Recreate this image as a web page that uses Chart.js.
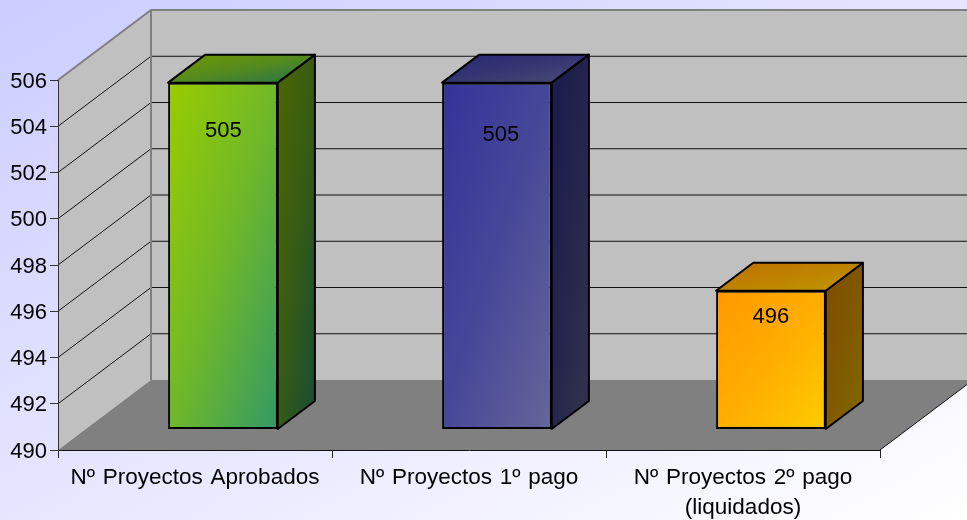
<!DOCTYPE html>
<html>
<head>
<meta charset="utf-8">
<style>
html, body { margin: 0; padding: 0; background: #fff; }
#wrap { width: 967px; height: 520px; }
</style>
<script src="https://cdn.jsdelivr.net/npm/chart.js@4"></script>
</head>
<body>
<div id="wrap"><canvas id="graf" width="967" height="520"></canvas></div>
<script>
var categories = ['Nº Proyectos Aprobados', 'Nº Proyectos 1º pago', ['Nº Proyectos 2º pago', '(liquidados)']];
var proyectos = [505, 505, 496];
var colorStart = ['#99cc00', '#333399', '#ff9900'];
var colorEnd = ['#339966', '#666699', '#ffcc00'];

// depth of the fake 3d box, in pixels
var DX = 93, DY = 70;

function mix(a, b, t, f) {
    var x = parseInt(a.slice(1), 16), y = parseInt(b.slice(1), 16);
    var ch = function (s) { return Math.round(((x >> s & 255) * (1 - t) + (y >> s & 255) * t) * f); };
    return 'rgb(' + ch(16) + ',' + ch(8) + ',' + ch(0) + ')';
}

// diagonal gradient where the other two corners get the same colour (like css "to bottom right")
function cornerGrad(ctx, x, y, w, h, i, f) {
    var len = Math.sqrt(w * w + h * h);
    var dx = h / len, dy = w / len;
    var half = (w / 2 * dx + h / 2 * dy);
    var cx = x + w / 2, cy = y + h / 2;
    var g = ctx.createLinearGradient(cx - half * dx, cy - half * dy, cx + half * dx, cy + half * dy);
    if (i === undefined) return g;
    g.addColorStop(0, mix(colorStart[i], colorEnd[i], 0, f));
    g.addColorStop(0.5, mix(colorStart[i], colorEnd[i], 0.4, f)); // excel ramp is not quite linear
    g.addColorStop(1, mix(colorStart[i], colorEnd[i], 1, f));
    return g;
}

function frontGradient(c) {
    var chart = c.chart, i = c.dataIndex;
    if (!chart.chartArea) return colorStart[i];
    var xs = chart.scales.x;
    var w = (xs.getPixelForValue(1) - xs.getPixelForValue(0)) * 0.4;
    var top = chart.scales.y.getPixelForValue(proyectos[i]);
    var bottom = chart.scales.y.getPixelForValue(490);
    return cornerGrad(chart.ctx, xs.getPixelForValue(i) - w / 2, top, w, bottom - top, i, 1);
}

function poly(ctx, pts, fill, stroke, lw) {
    ctx.beginPath();
    ctx.moveTo(pts[0][0], pts[0][1]);
    for (var i = 1; i < pts.length; i++) ctx.lineTo(pts[i][0], pts[i][1]);
    ctx.closePath();
    if (fill) { ctx.fillStyle = fill; ctx.fill(); }
    if (stroke) { ctx.strokeStyle = stroke; ctx.lineWidth = lw; ctx.lineJoin = 'round'; ctx.stroke(); }
}

var caja3d = {
    id: 'caja3d',
    beforeDraw: function (chart) {
        var ctx = chart.ctx, a = chart.chartArea, y = chart.scales.y;
        // page background
        var bg = cornerGrad(ctx, 0, 0, chart.width, chart.height);
        bg.addColorStop(0, '#ccccff');
        bg.addColorStop(1, '#ffffff');
        ctx.fillStyle = bg;
        ctx.fillRect(0, 0, chart.width, chart.height);

        // walls and floor
        poly(ctx, [[a.left + DX, a.top - DY], [a.right + DX, a.top - DY], [a.right + DX, a.bottom - DY], [a.left + DX, a.bottom - DY]], '#c0c0c0');
        poly(ctx, [[a.left, a.top], [a.left + DX, a.top - DY], [a.left + DX, a.bottom - DY], [a.left, a.bottom]], '#c0c0c0');
        poly(ctx, [[a.left, a.bottom], [a.left + DX, a.bottom - DY], [a.right + DX, a.bottom - DY], [a.right, a.bottom]], '#808080');

        // grid lines, one per tick, along the side wall and the back wall
        ctx.lineWidth = 1;
        ctx.strokeStyle = '#111';
        y.ticks.forEach(function (t) {
            if (t.value === y.min || t.value === y.max) return;
            var py = y.getPixelForValue(t.value);
            ctx.beginPath();
            ctx.moveTo(a.left, py);
            ctx.lineTo(a.left + DX, py - DY);
            ctx.lineTo(a.right + DX, py - DY);
            ctx.stroke();
        });

        // grey wall edges
        ctx.strokeStyle = '#808080';
        ctx.lineWidth = 2;
        ctx.beginPath();
        ctx.moveTo(a.left, a.top);
        ctx.lineTo(a.left + DX, a.top - DY);
        ctx.lineTo(a.right + DX, a.top - DY);
        ctx.moveTo(a.left + DX, a.top - DY);
        ctx.lineTo(a.left + DX, a.bottom - DY);
        ctx.stroke();

        // front edge of the floor on the right
        ctx.strokeStyle = '#111';
        ctx.lineWidth = 1;
        ctx.beginPath();
        ctx.moveTo(a.right, a.bottom);
        ctx.lineTo(a.right + DX, a.bottom - DY);
        ctx.stroke();

        // the canvas state was reset when chart.js sized it, so set this here
        ctx.wordSpacing = '1.5px';
        // y labels sit a bit lower than chart.js puts them
        y.getLabelItems().forEach(function (it) { it.textOffset = 1.5; });
    },
    beforeDatasetDraw: function (chart) {
        var ctx = chart.ctx;
        var fx = DX * 0.3, fy = -20.5, sx = DX * 0.4, sy = -DY * 0.4;
        ctx.save();
        ctx.translate(fx, fy);
        chart.getDatasetMeta(0).data.forEach(function (el, i) {
            var l = el.x - el.width / 2, r = el.x + el.width / 2, t = el.y, b = el.base;
            poly(ctx, [[r, t], [r + sx, t + sy], [r + sx, b + sy], [r, b]], cornerGrad(ctx, r, t + sy, sx, b - t, i, 0.5), '#000', 2);
            poly(ctx, [[l, t], [l + sx, t + sy], [r + sx, t + sy], [r, t]], cornerGrad(ctx, l, t + sy, r + sx - l, -sy, i, 0.75), '#000', 2);
        });
    },
    afterDatasetDraw: function (chart) {
        chart.ctx.restore();
        // value labels sit inside the front face, moved by hand in the original
        var ctx = chart.ctx;
        var fx = DX * 0.3, fy = -DY * 0.3;
        var shift = [[0.5, 49], [4, 53], [0, 27]];
        ctx.save();
        ctx.fillStyle = '#000';
        ctx.font = '22px "Liberation Sans"';
        ctx.textAlign = 'center';
        ctx.textBaseline = 'middle';
        chart.getDatasetMeta(0).data.forEach(function (el, i) {
            ctx.fillText(String(proyectos[i]), el.x + fx + shift[i][0], el.y + fy + shift[i][1]);
        });
        ctx.restore();
    }
};

var ctx = document.getElementById('graf').getContext('2d');
var myChart = new Chart(ctx, {
    type: 'bar',
    data: {
        labels: categories,
        datasets: [{
            label: 'Proyectos',
            data: proyectos,
            base: 490,
            backgroundColor: frontGradient,
            borderColor: '#000',
            borderWidth: 2,
            borderSkipped: false,
            barPercentage: 0.4,
            categoryPercentage: 1
        }]
    },
    options: {
        responsive: false,
        animation: false,
        layout: { padding: { top: 80, right: 87, left: 0, bottom: 0 } },
        plugins: { legend: { display: false }, title: { display: false }, tooltip: { enabled: false } },
        scales: {
            x: {
                afterFit: function (s) { s.height = 70; },
                grid: { drawOnChartArea: false, tickLength: 8, color: '#222', offset: true },
                border: { color: '#111', width: 1 },
                ticks: { color: '#000', padding: 5, maxRotation: 0, autoSkip: false, font: { family: 'Liberation Sans', size: 22.5, lineHeight: 1.34 } }
            },
            y: {
                min: 490,
                max: 506,
                afterFit: function (s) { s.width = 58; },
                grid: { drawOnChartArea: false, tickLength: 8, color: '#333' },
                border: { color: '#333', width: 1 },
                ticks: { stepSize: 2, color: '#000', padding: 3, font: { family: 'Liberation Sans', size: 22 } }
            }
        }
    },
    plugins: [caja3d]
});
</script>
</body>
</html>
